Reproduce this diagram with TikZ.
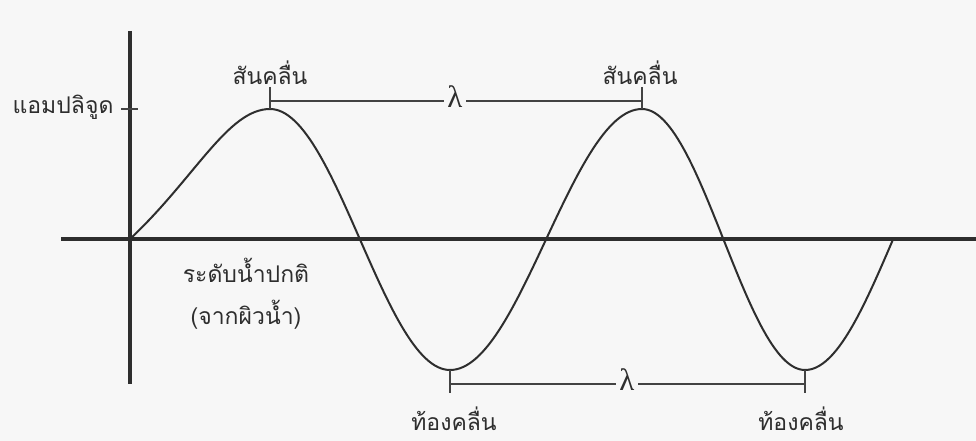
\documentclass[tikz,border=0pt]{standalone}
\usepackage{fontspec}
\newfontfamily\thaifont[Script=Thai]{Loma}
\newfontfamily\lamfont{Liberation Serif}
\definecolor{paper}{HTML}{F7F7F7}
\definecolor{ink}{HTML}{2E2E2E}
\begin{document}
\begin{tikzpicture}[x=1pt,y=-1pt,
  axis/.style={draw=ink,line width=3.2pt},
  wave/.style={draw=ink,line width=2pt},
  tickline/.style={draw=ink!90,line width=1.3pt},
  lbl/.style={font=\thaifont\fontsize{23}{27}\selectfont,text=ink,inner sep=0pt},
  lam/.style={font=\lamfont\fontsize{31}{31}\selectfont,text=ink,inner sep=3pt,fill=paper}]
\fill[paper] (0,0) rectangle (976,441);
\useasboundingbox (0,0) rectangle (976,441);
% axes
\coordinate (vtop) at (130,31);
\coordinate (vbot) at (130,384);
\coordinate (hleft) at (61,239);
\coordinate (hright) at (976,239);
\draw[axis] (vtop) -- (vbot);
\draw[axis] (hleft) -- (hright);
% amplitude tick
\coordinate (ampL) at (121,109);
\coordinate (ampR) at (138,109);
\draw[tickline] (ampL) -- (ampR);
% wave
\coordinate (o) at (130,239);
\coordinate (c1) at (270,109);
\coordinate (t1) at (450,370);
\coordinate (c2) at (642,109);
\coordinate (t2) at (805,370);
\coordinate (e) at (893,239);
\draw[wave] (o) .. controls (195,178) and (228,109) .. (c1)
  -- plot[domain=270:450,samples=60] (\x,{239.5-130.5*cos((\x-270)/180*180)})
  -- plot[domain=450:642,samples=60] (\x,{239.5+130.5*cos((\x-450)/192*180)})
  -- plot[domain=642:805,samples=60] (\x,{239.5-130.5*cos((\x-642)/163*180)})
  -- plot[domain=805:893,samples=40] (\x,{239.5+130.5*cos((\x-805)/88*90)});
% crest markers
\coordinate (c1top) at (270,87);
\coordinate (c2top) at (642,87);
\coordinate (c1h) at (270,101);
\coordinate (c2h) at (642,101);
\draw[tickline] (c1top) -- (c1);
\draw[tickline] (c2top) -- (c2);
\draw[tickline] (c1h) -- (c2h);
\node[lam] (lamtop) at (455,97) {λ};
% trough markers
\coordinate (t1bot) at (450,393);
\coordinate (t2bot) at (805,393);
\coordinate (t1h) at (450,384);
\coordinate (t2h) at (805,384);
\draw[tickline] (t1) -- (t1bot);
\draw[tickline] (t2) -- (t2bot);
\draw[tickline] (t1h) -- (t2h);
\node[lam] (lambot) at (627,380) {λ};
% labels
\node[lbl] (crestA) at (270,73) {สันคลื่น};
\node[lbl] (crestB) at (640,73) {สันคลื่น};
\node[lbl] (troughA) at (454,419) {ท้องคลื่น};
\node[lbl] (troughB) at (801,419) {ท้องคลื่น};
\node[lbl] (amp) at (63,107) {แอมปลิจูด};
\node[lbl] (level) at (246,270) {ระดับน้ำปกติ};
\node[lbl] (surf) at (246,315) {(จากผิวน้ำ)};
\end{tikzpicture}
\end{document}
